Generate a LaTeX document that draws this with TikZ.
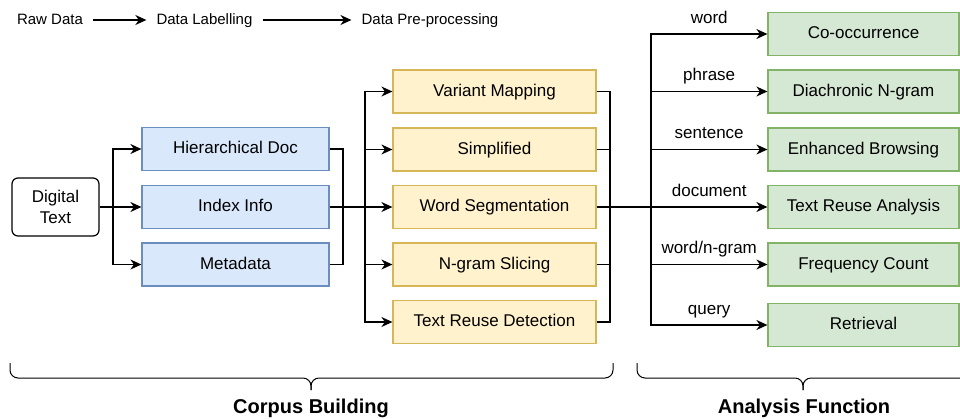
\documentclass[tikz,border=0pt]{standalone}
\usepackage{fontspec}
\setmainfont{Liberation Sans}
\usetikzlibrary{arrows.meta}
\definecolor{docFill}{HTML}{DAE8FC}
\definecolor{docLine}{HTML}{6C8EBF}
\definecolor{procFill}{HTML}{FFF2CC}
\definecolor{procLine}{HTML}{D6B656}
\definecolor{funcFill}{HTML}{D5E8D4}
\definecolor{funcLine}{HTML}{82B366}

\begin{document}
\begin{tikzpicture}[x=1pt,y=-1pt,
        every node/.style={font=\fontsize{17}{21}\selectfont},
        stage/.style={font=\fontsize{15}{18}\selectfont, text height=11pt, text depth=3pt, inner xsep=10pt},
        box/.style={draw, line width=1.2pt, minimum height=43pt, text height=12.5pt, text depth=3.5pt},
        docbox/.style={box, fill=docFill, draw=docLine, minimum width=187pt},
        procbox/.style={box, fill=procFill, draw=procLine, minimum width=203pt},
        funcbox/.style={box, fill=funcFill, draw=funcLine, minimum width=191pt},
        link/.style={line width=1.2pt},
        arr/.style={link, -{Stealth[length=11pt,width=10pt,inset=3.5pt]}},
        lbl/.style={pos=0.75, anchor=base, yshift=11pt},
        brace/.style={line width=1pt, rounded corners=8pt},
        group/.style={font=\fontsize{20}{24}\selectfont\bfseries, anchor=base}]
        \useasboundingbox (0,0) rectangle (960,418);
        % stages on top
        \node[stage] (raw) at (50,20) {Raw Data};
        \node[stage] (labelling) at (204.5,20) {Data Labelling};
        \node[stage] (prepro) at (430,20) {Data Pre-processing};
        \draw[arr] (raw) -- (labelling);
        \draw[arr] (labelling) -- (prepro);
        % input
        \node[draw, line width=1.2pt, rounded corners=6pt, minimum width=87pt, minimum height=58pt, align=center] (digital) at (55.5,207) {Digital\\Text};
        % labelling
        \node[docbox] (hier) at (235.5,149) {Hierarchical Doc};
        \node[docbox] (index) at (235.5,207) {Index Info};
        \node[docbox] (meta) at (235.5,264.5) {Metadata};
        % pre-processing
        \node[procbox] (variant) at (494.5,91.5) {Variant Mapping};
        \node[procbox] (simpl) at (494.5,149.5) {Simplified};
        \node[procbox] (wordseg) at (494.5,207) {Word Segmentation};
        \node[procbox] (ngram) at (494.5,264.5) {N-gram Slicing};
        \node[procbox] (reuse) at (494.5,322) {Text Reuse Detection};
        % functions
        \node[funcbox] (cooc) at (863.5,34) {Co-occurrence};
        \node[funcbox] (diachron) at (863.5,91.5) {Diachronic N-gram};
        \node[funcbox] (browse) at (863.5,149.5) {Enhanced Browsing};
        \node[funcbox] (reusean) at (863.5,207) {Text Reuse Analysis};
        \node[funcbox] (freq) at (863.5,264.5) {Frequency Count};
        \node[funcbox] (retr) at (863.5,325) {Retrieval};
        % forks and joins
        \coordinate (fork1) at (113,207);
        \coordinate (join1) at (343,207);
        \coordinate (fork2) at (365,207);
        \coordinate (join2) at (610,207);
        \coordinate (fork3) at (651,207);
        \draw[link] (digital) -- (fork1);
        \draw[arr] (fork1) |- (hier);
        \draw[arr] (fork1) -- (index);
        \draw[arr] (fork1) |- (meta);
        \draw[link] (hier) -| (join1) |- (meta);
        \draw[link] (index) -- (fork2);
        \draw[arr] (fork2) |- (variant);
        \draw[arr] (fork2) |- (simpl);
        \draw[arr] (fork2) -- (wordseg);
        \draw[arr] (fork2) |- (ngram);
        \draw[arr] (fork2) |- (reuse);
        \draw[link] (variant) -| (join2) |- (reuse);
        \draw[link] (simpl) -| (join2);
        \draw[link] (ngram) -| (join2);
        \draw[link] (wordseg) -- (fork3);
        \draw[arr] (fork3) |- node[lbl] {word} (cooc);
        \draw[arr] (fork3) |- node[lbl] {phrase} (diachron);
        \draw[arr] (fork3) |- node[lbl] {sentence} (browse);
        \draw[arr] (fork3) -- node[pos=0.5, anchor=base, yshift=11pt] {document} (reusean);
        \draw[arr] (fork3) |- node[lbl] {word/n-gram} (freq);
        \draw[arr] (fork3) |- node[lbl] {query} (retr);
        % braces
        \draw[brace] (10,363) |- (311,378) -- (311,390);
        \draw[brace] (613,363) |- (311,378) -- (311,390);
        \draw[brace] (637,363) |- (803,378) -- (803,390);
        \draw[brace] (969,363) |- (803,378) -- (803,390);
        \node[group] (corpus) at (311,413) {Corpus Building};
        \node[group] (analysis) at (804,413) {Analysis Function};
\end{tikzpicture}
\end{document}
